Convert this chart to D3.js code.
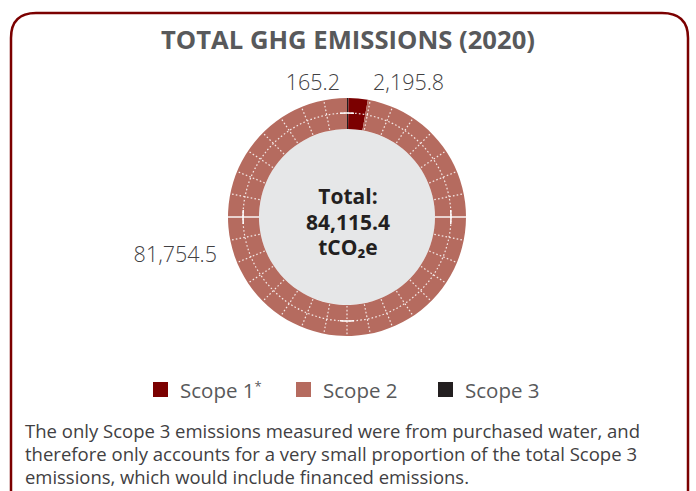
<!DOCTYPE html>
<html>
<head>
<meta charset="utf-8">
<script src="https://cdn.jsdelivr.net/npm/d3@7"></script>
<style>
  html, body { margin: 0; padding: 0; background: #fff; }
  svg { display: block; }
</style>
</head>
<body>
<svg id="chart" width="696" height="491"></svg>
<script>
// Emission sources, in legend order
const categories = ["Scope 1*", "Scope 2", "Scope 3"];
const emissions = [2195.8, 81754.5, 165.2];
const colors = ["#7b0000", "#b56b5f", "#231f20"];
// Ring is drawn clockwise from 12 o'clock in this order
const ringOrder = ["Scope 3", "Scope 1*", "Scope 2"];
const totalLines = ["Total:", "84,115.4", "tCO\u2082e"];
const titleText = "TOTAL GHG EMISSIONS (2020)";
const noteLines = [
  "The only Scope 3 emissions measured were from purchased water, and",
  "therefore only accounts for a very small proportion of the total Scope 3",
  "emissions, which would include financed emissions."
];

const fmt = d3.format(",.1f");
const svg = d3.select("#chart");
const W = 696;

// Frame
svg.append("path")
  .attr("d", "M11,495 L11,38 Q11,13 36,13 L662,13 Q688,13 688,38 L688,495")
  .attr("fill", "none")
  .attr("stroke", "#7b0000")
  .attr("stroke-width", 2.5);

// Title
svg.append("text")
  .attr("x", W / 2).attr("y", 49)
  .attr("text-anchor", "middle")
  .attr("font-family", "'Open Sans', sans-serif")
  .attr("font-weight", 700)
  .attr("font-size", 25.5)
  .attr("fill", "#58595b")
  .attr("textLength", 374)
  .attr("lengthAdjust", "spacingAndGlyphs")
  .text(titleText);

// Donut
const cx = 347, cy = 217, rOuter = 119, rInner = 88, rMid = 104;
const data = categories.map((c, i) => ({ name: c, value: emissions[i], color: colors[i] }));
const ringData = ringOrder.map(n => data.find(d => d.name === n));

const pie = d3.pie().value(d => d.value).sort(null);
const arc = d3.arc().innerRadius(rInner).outerRadius(rOuter);
const g = svg.append("g").attr("transform", `translate(${cx},${cy})`);

g.append("circle").attr("r", rInner).attr("fill", "#e6e7e8");

g.selectAll("path.slice")
  .data(pie(ringData))
  .join("path")
  .attr("class", "slice")
  .attr("d", arc)
  .attr("fill", d => d.data.color);

// Decorative stitching over the ring
const deco = g.append("g").attr("stroke", "#fff").attr("fill", "none");
deco.append("circle")
  .attr("r", rMid)
  .attr("stroke-width", 1.2)
  .attr("stroke-dasharray", "1.6,2.2")
  .attr("stroke-opacity", 0.85);
const spokes = d3.range(32).map(i => i * 360 / 32).filter(a => a % 90 !== 0 || a === 180);
deco.selectAll("line.spoke")
  .data(spokes)
  .join("line")
  .attr("class", "spoke")
  .attr("x1", a => (rInner + 1) * Math.sin(a * Math.PI / 180))
  .attr("y1", a => -(rInner + 1) * Math.cos(a * Math.PI / 180))
  .attr("x2", a => (rOuter - 1) * Math.sin(a * Math.PI / 180))
  .attr("y2", a => -(rOuter - 1) * Math.cos(a * Math.PI / 180))
  .attr("stroke-width", 1.2)
  .attr("stroke-dasharray", "1.6,2.2")
  .attr("stroke-opacity", 0.85);
// solid marks at the cardinal points
[90, 270].forEach(a => {
  const t = a * Math.PI / 180;
  deco.append("line")
    .attr("x1", rInner * Math.sin(t)).attr("y1", -rInner * Math.cos(t))
    .attr("x2", rOuter * Math.sin(t)).attr("y2", -rOuter * Math.cos(t))
    .attr("stroke-width", 1.4);
});
[0, 90, 180, 270].forEach(a => {
  const t = a * Math.PI / 180, dt = 7 / rMid;
  deco.append("path")
    .attr("d", d3.arc().innerRadius(rMid).outerRadius(rMid)
      .startAngle(t - dt).endAngle(t + dt)())
    .attr("stroke-width", 1.5);
});

// Value labels
const labelFont = "'Open Sans', sans-serif";
const labelPos = {
  "Scope 3": { x: 340, y: 90, anchor: "end" },
  "Scope 1*": { x: 373, y: 90, anchor: "start" },
  "Scope 2": { x: 217, y: 262, anchor: "end" }
};
svg.selectAll("text.val")
  .data(data)
  .join("text")
  .attr("class", "val")
  .attr("x", d => labelPos[d.name].x)
  .attr("y", d => labelPos[d.name].y)
  .attr("text-anchor", d => labelPos[d.name].anchor)
  .attr("font-family", labelFont)
  .attr("font-weight", 300)
  .attr("font-size", 21.5)
  .attr("fill", "#414042")
  .text(d => fmt(d.value));

// Centre total
const ct = svg.append("text")
  .attr("text-anchor", "middle")
  .attr("font-family", labelFont)
  .attr("font-weight", 700)
  .attr("font-size", 21)
  .attr("fill", "#231f20");
totalLines.forEach((t, i) => {
  ct.append("tspan").attr("x", cx + 1).attr("y", 204 + i * 25.5).text(t);
});

// Legend
const legendX = [153, 296, 438];
const lg = svg.selectAll("g.leg")
  .data(data)
  .join("g")
  .attr("class", "leg")
  .attr("transform", (d, i) => `translate(${legendX[i]},382)`);
lg.append("rect").attr("width", 15).attr("height", 15).attr("fill", d => d.color);
lg.each(function (d) {
  const t = d3.select(this).append("text")
    .attr("x", 27).attr("y", 16)
    .attr("font-family", labelFont)
    .attr("font-weight", 400)
    .attr("font-size", 20.5)
    .attr("fill", "#58595b");
  const m = d.name.match(/^(.*?)(\*?)$/);
  t.append("tspan").text(m[1]);
  if (m[2]) t.append("tspan").attr("font-size", 13).attr("dy", -7).text(m[2]);
});

// Footnote
const note = svg.append("text")
  .attr("font-family", labelFont)
  .attr("font-weight", 400)
  .attr("font-size", 17.5)
  .attr("fill", "#414042");
const noteWidths = [615, 612, 444];
noteLines.forEach((t, i) => {
  note.append("tspan")
    .attr("x", 25).attr("y", 438 + i * 23)
    .attr("textLength", noteWidths[i])
    .attr("lengthAdjust", "spacingAndGlyphs")
    .text(t);
});
</script>
</body>
</html>
